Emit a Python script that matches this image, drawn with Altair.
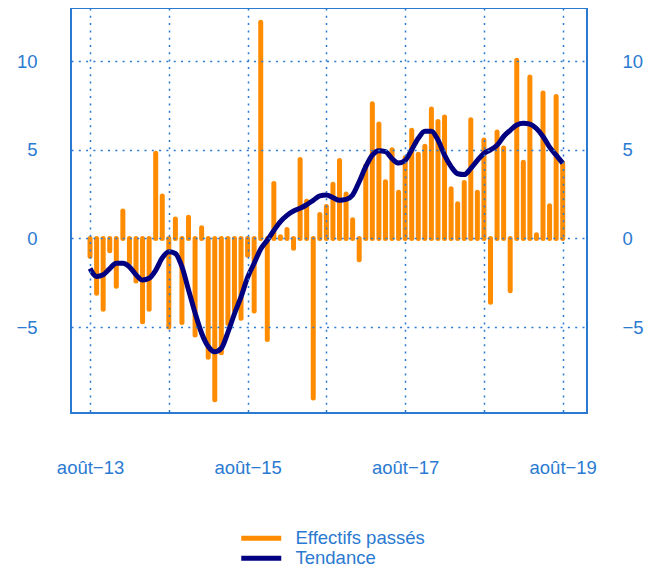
import altair as alt
import pandas as pd

# Month index: 0 = août 2013 ... 72 = août 2019
months = list(range(73))

effectifs = [
    -1.0, -3.1, -4.0, -0.7, -2.7, 1.55, -1.4, -2.4, -4.7, -4.0, 4.8, 2.4,
    -5.0, 1.1, -4.75, 1.2, -5.45, 0.6, -6.7, -9.1, -6.45, -4.8, -4.05, -4.5,
    -0.95, -4.1, 12.2, -5.7, 3.1, 0.1, 0.5, -0.55, 4.45, 2.1, -9.0, 1.35,
    1.8, 3.05, 4.4, 2.5, 1.05, -1.2, 4.1, 7.6, 6.45, 3.2, 5.0, 2.6,
    4.55, 6.1, 4.75, 5.2, 7.3, 6.6, 6.85, 2.8, 1.95, 3.15, 6.7, 2.6,
    5.55, -3.6, 6.0, 5.1, -2.95, 10.05, 4.3, 9.1, 0.2, 8.2, 1.85, 8.0,
    4.25,
]

tendance = [
    -1.7, -2.15, -2.05, -1.7, -1.4, -1.4, -1.6, -2.05, -2.35, -2.25, -1.8, -1.1,
    -0.75, -0.85, -1.6, -2.9, -4.2, -5.35, -6.1, -6.4, -6.2, -5.3, -4.25, -3.3,
    -2.2, -1.4, -0.6, -0.1, 0.45, 0.95, 1.3, 1.55, 1.7, 1.9, 2.15, 2.4,
    2.45, 2.3, 2.15, 2.2, 2.45, 3.2, 4.05, 4.7, 4.95, 4.9, 4.5, 4.25,
    4.4, 5.0, 5.65, 6.05, 6.05, 5.55, 4.7, 4.05, 3.65, 3.6, 3.95, 4.4,
    4.8, 5.0, 5.25, 5.75, 6.1, 6.4, 6.5, 6.45, 6.2, 5.75, 5.15, 4.7,
    4.25,
]

tick_months = [0, 12, 24, 36, 48, 60, 72]
y_ticks = [-5, 0, 5, 10]
series_names = ["Effectifs passés", "Tendance"]
series_colors = ["#ff8c00", "#000080"]

blue = "#2a7ad2"
font = "Liberation Sans"
fsize = 18.5

df = pd.DataFrame({"mois": months, "valeur": effectifs, "tendance": tendance})
df["zero"] = 0
df["s_bar"] = series_names[0]
df["s_line"] = series_names[1]

xscale = alt.Scale(domain=[-2.9, 75.7], nice=False, zero=False)
yscale = alt.Scale(domain=[-9.85, 13.0], nice=False, zero=False)
color_scale = alt.Scale(domain=series_names, range=series_colors)

legend = alt.Legend(
    title=None, orient="none", legendX=181, legendY=521, direction="vertical",
    symbolType="M-4,0H4", symbolSize=100, symbolStrokeWidth=5,
    labelFontSize=fsize, labelFont=font, labelColor=blue, labelOffset=25,
    rowPadding=-2, padding=0,
)

x_axis = alt.Axis(
    title=None, values=tick_months,
    labelExpr="datum.value % 24 == 0 ? 'août−' + (13 + datum.value / 12) : ''",
    grid=True, gridColor=blue, gridDash=[2, 5.3], gridWidth=1.5,
    domain=False, ticks=False, labelPadding=45, labelFontSize=fsize,
    labelFont=font, labelColor=blue, labelBaseline="top",
    labelOverlap=False, labelFlush=False, zindex=1,
)

y_left = alt.Axis(
    title=None, orient="left", values=y_ticks,
    grid=True, gridColor=blue, gridDash=[2, 5.3], gridWidth=1.5,
    domain=False, ticks=False, labelPadding=34, labelFontSize=fsize,
    labelFont=font, labelColor=blue, zindex=1,
)

y_right = alt.Axis(
    title=None, orient="right", values=y_ticks, grid=False,
    domain=False, ticks=False, labelPadding=35, labelFontSize=fsize,
    labelFont=font, labelColor=blue,
)

bars = alt.Chart(df).mark_rule(strokeWidth=5, strokeCap="round").encode(
    x=alt.X("mois:Q", scale=xscale, axis=x_axis),
    y=alt.Y("valeur:Q", scale=yscale, axis=y_left),
    y2=alt.Y2("zero"),
    color=alt.Color("s_bar:N", scale=color_scale, legend=legend),
)

line = alt.Chart(df).mark_line(strokeWidth=5, interpolate="monotone").encode(
    x=alt.X("mois:Q", scale=xscale, axis=x_axis),
    y=alt.Y("tendance:Q", scale=yscale, axis=y_right),
    color=alt.Color("s_line:N", scale=color_scale, legend=legend),
)

chart = (
    alt.layer(bars, line)
    .resolve_scale(y="shared", color="shared")
    .resolve_axis(y="independent")
    .properties(
        width=516, height=405,
        padding={"left": 63, "top": 0, "right": 61, "bottom": 154},
        autosize=alt.AutoSizeParams(type="none"),
    )
    .configure(font=font)
    .configure_view(stroke=blue, strokeWidth=2)
)

chart.save("out.html", embed_options={"renderer": "svg", "actions": False})
